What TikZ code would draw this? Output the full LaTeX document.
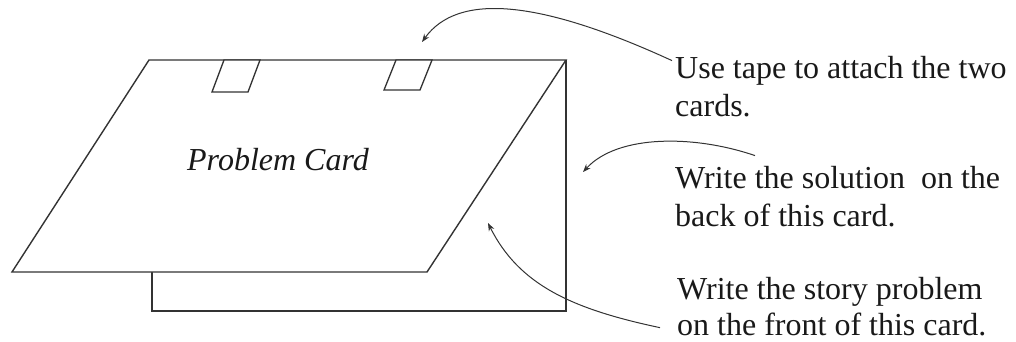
\documentclass[tikz,border=0pt]{standalone}
\usepackage{fontspec}
\setmainfont{Liberation Serif}
\usetikzlibrary{arrows.meta}
\begin{document}
\begin{tikzpicture}[x=1pt, y=-1pt, >={Stealth[length=8pt,width=6pt]},
  card/.style={line width=1.4pt, draw=black!80},
  tapepiece/.style={line width=1.3pt, draw=black!80, fill=white},
  note/.style={font=\fontsize{32}{38}\selectfont, align=left, inner sep=0pt, text=black!90},
  pointer/.style={->, line width=1pt, draw=black!80}]
\useasboundingbox (0,0) rectangle (1016,341);
% back card
\draw[card] (152,272) -- (152,311) -- (566,311) -- (566,60);
% front card, folded down
\filldraw[card, fill=white] (149,60) -- (566,60) -- (427,272) -- (12,272) -- cycle;
% tape
\draw[tapepiece] (224,60) -- (260,60) -- (248,92) -- (212,92) -- cycle;
\draw[tapepiece] (396,60) -- (432,60) -- (420,90) -- (384,90) -- cycle;
\node[font=\fontsize{32}{38}\selectfont\itshape, text=black!90, anchor=base] (title) at (278,170) {Problem Card};
% notes (base = last line)
\node[note, anchor=base west] (tape) at (675,116) {Use tape to attach the two\\cards.};
\node[note, anchor=base west] (solution) at (675,226) {Write the solution\ \ on the\\back of this card.};
\node[note, font=\fontsize{32}{36}\selectfont, anchor=base west] (story) at (677,335) {Write the story problem\\on the front of this card.};
% arrows
\coordinate (tapemark) at (422,42);
\coordinate (backmark) at (583,172);
\coordinate (frontmark) at (488,223);
\draw[pointer] ([shift={(-3,5)}]tape.north west) .. controls (540,0) and (458,-8) .. (tapemark);
\draw[pointer] ([shift={(80,-10)}]solution.north west) .. controls (695,135) and (618,134) .. (backmark);
\draw[pointer] ([shift={(-17,-8)}]story.south west) .. controls (572,309) and (519,285) .. (frontmark);
\end{tikzpicture}
\end{document}
